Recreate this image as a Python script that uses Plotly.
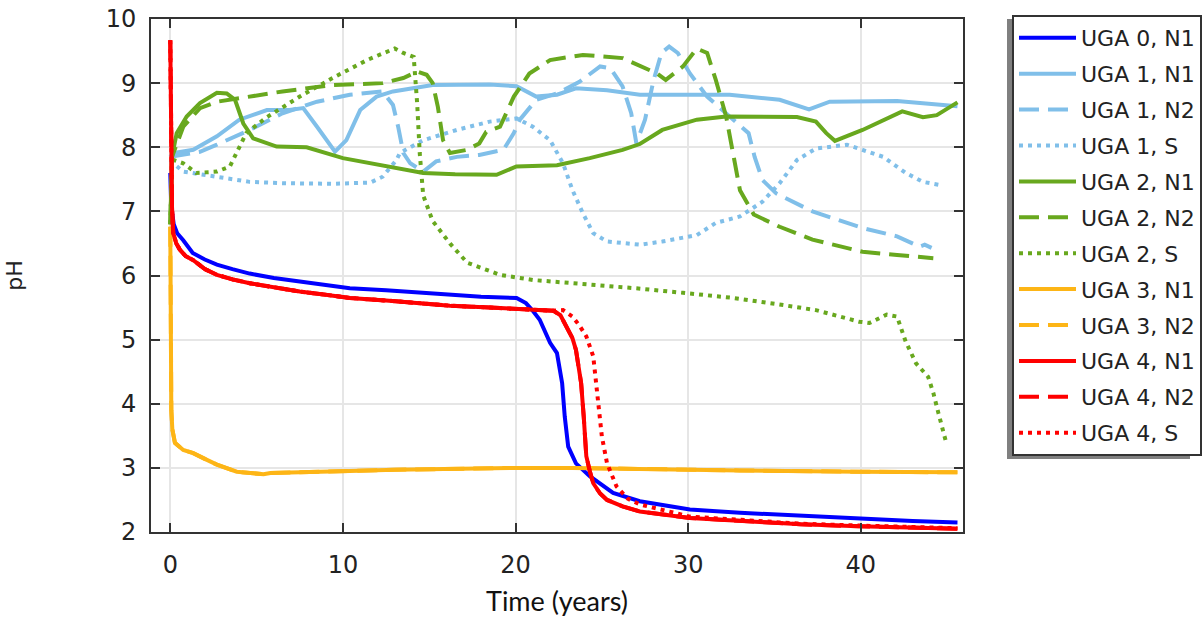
import plotly.graph_objects as go

# ---------------- data ----------------
t_uga0_n1 = [0, 0.05, 0.2, 0.4, 0.75, 1.3, 2.0, 2.7, 3.6, 4.6, 6.0, 7.5, 9.0, 10.4, 12.5, 14.5, 16.2, 18.0,
             20.06, 20.6, 21.0, 21.4, 22.0, 22.4, 22.7, 22.85, 23.05, 23.5, 24.3, 25.65, 27.2, 30.1, 33.0,
             36.5, 39.9, 43.0, 45.6]
ph_uga0_n1 = [7.6, 7.1, 6.8, 6.66, 6.55, 6.35, 6.25, 6.17, 6.1, 6.03, 5.96, 5.91, 5.85, 5.80, 5.77, 5.73,
              5.70, 5.67, 5.65, 5.57, 5.45, 5.31, 4.95, 4.79, 4.32, 3.80, 3.33, 3.07, 2.87, 2.61, 2.48,
              2.35, 2.30, 2.25, 2.20, 2.17, 2.15]

t_uga1_n1 = [0, 0.17, 1.33, 2.7, 4.0, 5.6, 6.9, 7.7, 8.5, 9.54, 10.2, 11.0, 11.95, 12.9, 15.2, 18.5, 20.06,
             21.2, 22.4, 23.5, 25.3, 27.2, 30.5, 32.4, 35.3, 37.0, 38.2, 42.1, 45.6]
ph_uga1_n1 = [7.85, 7.91, 7.96, 8.17, 8.43, 8.58, 8.58, 8.61, 8.32, 7.93, 8.11, 8.58, 8.79, 8.87, 8.97, 8.98,
              8.95, 8.79, 8.82, 8.92, 8.89, 8.82, 8.82, 8.82, 8.74, 8.59, 8.71, 8.72, 8.64]

t_uga1_n2 = [0, 0.75, 1.72, 2.7, 4.6, 6.5, 8.5, 10.4, 12.3, 12.9, 13.2, 13.5, 13.9, 14.65, 15.4, 16.6, 17.9,
             19.3, 19.9, 20.25, 21.2, 22.4, 23.7, 24.9, 25.5, 26.2, 26.7, 27.0, 27.5, 28.0, 28.45, 28.9,
             29.4, 30.1, 31.1, 32.4, 33.5, 33.85, 34.3, 35.1, 37.2, 40.1, 42.1, 43.4, 43.7, 44.1]
ph_uga1_n2 = [7.85, 7.88, 7.93, 8.04, 8.27, 8.53, 8.71, 8.82, 8.87, 8.66, 8.32, 7.91, 7.75, 7.62, 7.78, 7.85,
              7.88, 7.96, 8.22, 8.43, 8.74, 8.84, 9.02, 9.26, 9.23, 8.95, 8.53, 8.06, 8.43, 9.05, 9.47,
              9.57, 9.47, 9.15, 8.79, 8.48, 8.22, 7.85, 7.49, 7.28, 7.0, 6.74, 6.61, 6.45, 6.48, 6.43]

t_uga1_s = [0, 0.17, 0.75, 2.7, 4.6, 6.5, 9.4, 11.6, 12.3, 13.1, 13.3, 14.65, 16.6, 18.5, 20.06, 21.0, 22.0,
            22.75, 23.3, 23.9, 24.5, 25.3, 27.2, 28.5, 30.5, 31.6, 33.0, 34.3, 35.3, 36.3, 37.4, 39.2, 40.1,
            41.3, 42.6, 43.6, 44.6]
ph_uga1_s = [7.8, 7.75, 7.62, 7.54, 7.46, 7.44, 7.43, 7.45, 7.54, 7.80, 7.91, 8.11, 8.27, 8.40, 8.45, 8.32,
             8.11, 7.75, 7.33, 6.97, 6.66, 6.53, 6.48, 6.53, 6.63, 6.82, 6.92, 7.15, 7.44, 7.80, 7.98, 8.04,
             7.96, 7.85, 7.60, 7.46, 7.41]

t_uga2_n1 = [0, 0.05, 0.1, 0.37, 0.95, 1.72, 2.7, 3.27, 3.75, 4.23, 4.8, 6.16, 7.9, 10.0, 12.3, 13.3, 14.65,
             16.5, 18.9, 20.05, 22.4, 24.3, 26.2, 27.2, 28.5, 30.5, 32.2, 36.3, 37.4, 38.0, 38.5, 40.1, 42.4,
             43.6, 44.4, 45.6]
ph_uga2_n1 = [6.8, 7.5, 7.85, 8.22, 8.48, 8.69, 8.85, 8.84, 8.74, 8.37, 8.14, 8.01, 8.0, 7.83, 7.72, 7.67,
              7.60, 7.58, 7.57, 7.70, 7.72, 7.83, 7.96, 8.05, 8.27, 8.43, 8.48, 8.47, 8.40, 8.22, 8.10, 8.27,
              8.56, 8.47, 8.50, 8.70]

t_uga2_n2 = [0, 0.05, 0.1, 0.75, 1.72, 2.7, 3.85, 6.5, 9.4, 12.3, 13.5, 14.3, 14.85, 15.2, 15.5, 15.8, 16.2,
             17.2, 17.9, 18.3, 19.1, 19.9, 20.8, 22.0, 23.9, 26.2, 28.2, 28.7, 29.7, 30.5, 31.1, 31.6, 32.2,
             32.6, 33.0, 33.8, 35.3, 37.2, 40.1, 42.1, 44.2]
ph_uga2_n2 = [6.8, 7.6, 7.85, 8.32, 8.61, 8.71, 8.76, 8.87, 8.97, 9.0, 9.08, 9.18, 9.13, 9.0, 8.63, 8.11,
              7.91, 7.96, 8.06, 8.24, 8.32, 8.79, 9.15, 9.36, 9.44, 9.39, 9.15, 9.05, 9.26, 9.54, 9.47, 9.05,
              8.48, 7.91, 7.33, 6.95, 6.76, 6.56, 6.37, 6.32, 6.27]

t_uga2_s = [0, 0.1, 0.2, 0.75, 1.5, 2.7, 3.45, 4.4, 5.6, 7.5, 9.4, 11.4, 13.0, 13.5, 14.1, 14.3, 14.45,
            14.65, 15.2, 16.2, 17.2, 19.1, 21.0, 22.0, 24.9, 27.0, 29.7, 32.6, 35.0, 37.4, 39.9, 40.5, 41.5,
            42.1, 42.6, 43.2, 43.9, 44.2, 44.5, 44.95]
ph_uga2_s = [6.8, 7.7, 7.8, 7.75, 7.6, 7.62, 7.70, 8.22, 8.47, 8.79, 9.08, 9.36, 9.54, 9.47, 9.41, 8.69,
             7.91, 7.25, 6.85, 6.5, 6.2, 6.01, 5.93, 5.91, 5.85, 5.80, 5.73, 5.65, 5.56, 5.46, 5.28, 5.26,
             5.39, 5.36, 4.97, 4.63, 4.42, 4.17, 3.85, 3.39]

t_uga3_n1 = [0, 0.03, 0.06, 0.12, 0.27, 0.75, 1.33, 2.0, 2.7, 3.85, 5.4, 5.8, 8.0, 10.4, 13.0, 16.2, 20.0,
             23.3, 27.0, 33.0, 39.9, 45.6]
ph_uga3_n1 = [6.76, 5.0, 3.9, 3.6, 3.39, 3.28, 3.23, 3.14, 3.05, 2.94, 2.90, 2.92, 2.94, 2.95, 2.97, 2.99,
              3.0, 3.0, 2.98, 2.96, 2.94, 2.93]
t_uga3_n2 = list(t_uga3_n1)
ph_uga3_n2 = list(ph_uga3_n1)

t_uga4_n1 = [0, 0.03, 0.06, 0.1, 0.17, 0.35, 0.56, 0.9, 1.33, 2.0, 2.7, 3.6, 4.6, 6.0, 7.5, 9.0, 10.4,
             12.5, 14.5, 16.2, 18.5, 20.5, 22.2, 22.6, 22.95, 23.3, 23.5, 23.8, 23.95, 24.1, 24.3, 24.5,
             24.9, 25.3, 26.2, 27.2, 30.1, 33.0, 36.5, 39.9, 43.0, 45.6]
ph_uga4_n1 = [9.67, 8.5, 7.6, 7.07, 6.66, 6.5, 6.4, 6.3, 6.24, 6.1, 6.01, 5.94, 5.88, 5.81, 5.75, 5.70,
              5.65, 5.61, 5.57, 5.53, 5.50, 5.47, 5.45, 5.38, 5.20, 5.02, 4.84, 4.32, 3.80, 3.18, 2.95,
              2.76, 2.6, 2.5, 2.4, 2.32, 2.22, 2.17, 2.12, 2.09, 2.07, 2.05]
t_uga4_n2 = list(t_uga4_n1)
ph_uga4_n2 = list(ph_uga4_n1)

t_uga4_s = [0, 0.03, 0.06, 0.1, 0.17, 0.35, 0.56, 0.9, 1.33, 2.0, 2.7, 3.6, 4.6, 6.0, 7.5, 9.0, 10.4,
            12.5, 14.5, 16.2, 18.5, 20.5, 22.2, 22.75, 23.3, 23.7, 24.1, 24.5, 24.8, 25.0, 25.3, 25.85,
            26.5, 27.2, 30.1, 33.0, 36.5, 39.9, 43.0, 45.6]
ph_uga4_s = [9.67, 8.5, 7.6, 7.07, 6.66, 6.5, 6.4, 6.3, 6.24, 6.1, 6.01, 5.94, 5.88, 5.81, 5.75, 5.70,
             5.65, 5.61, 5.57, 5.53, 5.50, 5.47, 5.45, 5.46, 5.36, 5.22, 5.05, 4.74, 4.06, 3.49, 3.07,
             2.71, 2.52, 2.43, 2.24, 2.19, 2.13, 2.10, 2.08, 2.06]

series_names = ["UGA 0, N1", "UGA 1, N1", "UGA 1, N2", "UGA 1, S", "UGA 2, N1", "UGA 2, N2",
                "UGA 2, S", "UGA 3, N1", "UGA 3, N2", "UGA 4, N1", "UGA 4, N2", "UGA 4, S"]
series_t = [t_uga0_n1, t_uga1_n1, t_uga1_n2, t_uga1_s, t_uga2_n1, t_uga2_n2, t_uga2_s,
            t_uga3_n1, t_uga3_n2, t_uga4_n1, t_uga4_n2, t_uga4_s]
series_ph = [ph_uga0_n1, ph_uga1_n1, ph_uga1_n2, ph_uga1_s, ph_uga2_n1, ph_uga2_n2, ph_uga2_s,
             ph_uga3_n1, ph_uga3_n2, ph_uga4_n1, ph_uga4_n2, ph_uga4_s]

x_ticks = [0, 10, 20, 30, 40]
y_ticks = [2, 3, 4, 5, 6, 7, 8, 9, 10]

# ---------------- styles ----------------
BLUE = "#0000ff"
LBLUE = "#80bfe9"
GREEN = "#68a81e"
ORANGE = "#fdb516"
RED = "#ff0000"
DASH = "20px,9px"
DOT = "4px,5px"
series_color = [BLUE, LBLUE, LBLUE, LBLUE, GREEN, GREEN, GREEN, ORANGE, ORANGE, RED, RED, RED]
series_dash = ["solid", "solid", DASH, DOT, "solid", DASH, DOT, "solid", DASH, "solid", DASH, DOT]

fig = go.Figure()
for i, name in enumerate(series_names):
    fig.add_trace(go.Scatter(
        x=series_t[i], y=series_ph[i], mode="lines", name=name,
        legendgroup=name,
        line=dict(color=series_color[i], width=4, dash=series_dash[i]),
    ))

W, H = 1204, 619
L, R, T, B = 151, 963, 19, 532

def px2paper_x(px):
    return (px - L) / (R - L)

def px2paper_y(py):
    return (B - py) / (B - T)

axis_common = dict(
    showline=True, linecolor="#333333", linewidth=2, mirror="ticks",
    ticks="inside", ticklen=9, tickwidth=2, tickcolor="#333333",
    showgrid=True, gridcolor="#e6e6e6", gridwidth=2, zeroline=False,
    tickfont=dict(family="DejaVu Sans", size=24, color="#222222"),
)

fig.update_layout(
    width=W, height=H,
    margin=dict(l=L, r=W - R, t=T, b=H - B, autoexpand=False),
    paper_bgcolor="white", plot_bgcolor="white",
    xaxis=dict(range=[-1.117, 45.92], tickvals=x_ticks, ticklabelstandoff=10,
               title=dict(text="Time (years)", font=dict(family="Lato", size=27, color="#111111"),
                          standoff=14),
               **axis_common),
    yaxis=dict(range=[2, 10], tickvals=y_ticks, ticklabelstandoff=8,
               title=dict(text="pH", font=dict(family="DejaVu Sans", size=22, color="#222222"),
                          standoff=77),
               **axis_common),
    legend=dict(
        x=px2paper_x(1012), y=px2paper_y(15), xanchor="left", yanchor="top",
        bgcolor="white", bordercolor="#333333", borderwidth=2,
        font=dict(family="DejaVu Sans", size=22, color="#222222"),
        traceorder="grouped", tracegroupgap=4.3, itemwidth=57, maxheight=600,
    ),
    showlegend=True,
)

# legend drop shadow (offset down-left, as in the reference)
fig.add_shape(type="rect", xref="paper", yref="paper",
              x0=px2paper_x(1007), x1=px2paper_x(1190), y0=px2paper_y(459), y1=px2paper_y(19),
              fillcolor="#808080", line=dict(width=0), layer="above")

fig.write_html("out.html")
